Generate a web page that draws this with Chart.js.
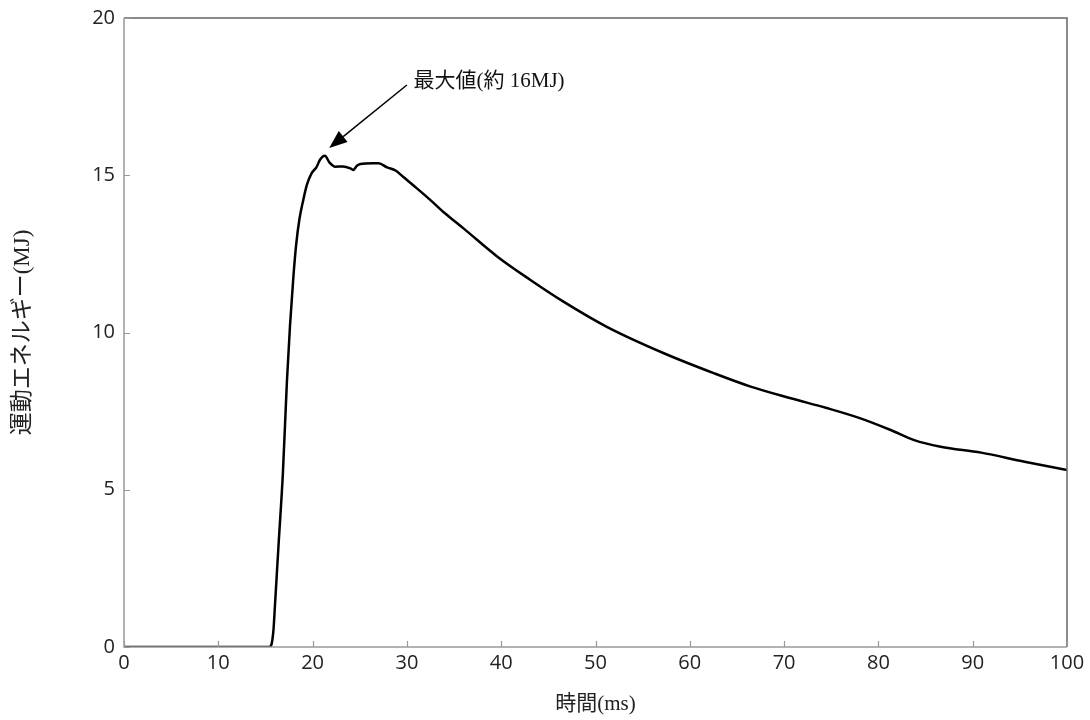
<!DOCTYPE html>
<html>
<head>
<meta charset="utf-8">
<script src="https://cdn.jsdelivr.net/npm/chart.js@4.4.0/dist/chart.umd.min.js"></script>
<style>
html,body{margin:0;padding:0;background:#fff;}
#wrap{width:1090px;height:720px;position:relative;}
</style>
</head>
<body>
<div id="wrap"><canvas id="c" width="1090" height="720"></canvas></div>
<script>
const timeMs = [0, 5, 10, 14, 15.4, 15.6, 15.85, 16.0, 16.4, 16.85, 17.27, 17.6, 17.97, 18.26, 18.6, 19.0, 19.4, 19.9, 20.4, 20.8, 21.3, 21.8, 22.4, 23.2, 24.0, 24.3, 24.7, 25.05, 26.4, 27.0, 27.9, 28.8, 29.6, 31, 32.5, 34, 36, 39.6, 43.1, 46.6, 51.2, 57.25, 62.6, 66.45, 70.7, 74.5, 78.1, 81.3, 83.8, 86.6, 90.9, 95.5, 100];
const energyMJ = [0, 0, 0, 0, 0, 0.05, 0.54, 1.28, 3.3, 5.53, 8.4, 10.2, 11.8, 12.8, 13.6, 14.2, 14.7, 15.07, 15.25, 15.5, 15.62, 15.4, 15.27, 15.28, 15.22, 15.17, 15.3, 15.36, 15.38, 15.38, 15.25, 15.15, 14.95, 14.6, 14.21, 13.8, 13.31, 12.41, 11.67, 10.98, 10.18, 9.34, 8.70, 8.28, 7.91, 7.6, 7.27, 6.90, 6.58, 6.37, 6.18, 5.89, 5.63];
const xTicks = [0, 10, 20, 30, 40, 50, 60, 70, 80, 90, 100];
const yTicks = [0, 5, 10, 15, 20];
const xTitle = '時間(ms)';
const yTitle = '運動エネルギー(MJ)';
const noteText = '最大値(約 16MJ)';
const noteArrowTail = [30.0, 17.87];
const noteArrowTip = [21.76, 15.87];
const noteTextPos = [30.7, 17.97];

const points = timeMs.map((t, i) => ({x: t, y: energyMJ[i]}));

const framePlugin = {
  id: 'frame',
  afterDraw(chart) {
    const ctx = chart.ctx;
    const a = chart.chartArea;
    const xs = chart.scales.x, ys = chart.scales.y;
    ctx.save();
    ctx.strokeStyle = '#666';
    ctx.lineWidth = 1.5;
    ctx.beginPath();
    ctx.moveTo(a.left, a.top);
    ctx.lineTo(a.right, a.top);
    ctx.lineTo(a.right, a.bottom);
    ctx.stroke();
    ctx.strokeStyle = '#999';
    ctx.lineWidth = 1.5;
    ctx.beginPath();
    ctx.moveTo(a.left, a.top);
    ctx.lineTo(a.left, a.bottom);
    ctx.lineTo(a.right, a.bottom);
    ctx.stroke();
    ctx.lineWidth = 1.2;
    ctx.beginPath();
    xTicks.forEach(v => {
      const px = Math.round(xs.getPixelForValue(v)) + 0.5;
      ctx.moveTo(px, a.bottom);
      ctx.lineTo(px, a.bottom - 6);
    });
    yTicks.forEach(v => {
      const py = Math.round(ys.getPixelForValue(v)) + 0.5;
      ctx.moveTo(a.left, py);
      ctx.lineTo(a.left + 6, py);
    });
    ctx.stroke();
    const tx = xs.getPixelForValue(noteArrowTail[0]), ty = ys.getPixelForValue(noteArrowTail[1]);
    const hx = xs.getPixelForValue(noteArrowTip[0]), hy = ys.getPixelForValue(noteArrowTip[1]);
    const ang = Math.atan2(hy - ty, hx - tx);
    const headLen = 18, headW = 7;
    const bx = hx - headLen * Math.cos(ang), by = hy - headLen * Math.sin(ang);
    ctx.strokeStyle = '#000';
    ctx.fillStyle = '#000';
    ctx.lineWidth = 1.5;
    ctx.beginPath();
    ctx.moveTo(tx, ty);
    ctx.lineTo(bx, by);
    ctx.stroke();
    ctx.beginPath();
    ctx.moveTo(hx, hy);
    ctx.lineTo(bx + headW * Math.sin(ang), by - headW * Math.cos(ang));
    ctx.lineTo(bx - headW * Math.sin(ang), by + headW * Math.cos(ang));
    ctx.closePath();
    ctx.fill();
    ctx.font = '21px "Liberation Serif", "Noto Sans CJK JP", serif';
    ctx.textBaseline = 'middle';
    ctx.textAlign = 'left';
    ctx.fillStyle = '#111';
    ctx.fillText(noteText, xs.getPixelForValue(noteTextPos[0]), ys.getPixelForValue(noteTextPos[1]));
    ctx.restore();
  }
};

new Chart(document.getElementById('c'), {
  type: 'line',
  data: {
    datasets: [{
      data: points,
      borderColor: '#000',
      borderWidth: 2.5,
      pointRadius: 0,
      fill: false,
      cubicInterpolationMode: 'monotone'
    }]
  },
  options: {
    responsive: false,
    animation: false,
    events: [],
    layout: {padding: {top: 18, right: 23, left: 0, bottom: 0}},
    plugins: {legend: {display: false}, tooltip: {enabled: false}},
    scales: {
      x: {
        type: 'linear',
        min: 0, max: 100,
        afterBuildTicks(s) { s.ticks = xTicks.map(v => ({value: v})); },
        afterFit(s) { s.height = 73; },
        grid: {display: false},
        border: {display: false},
        ticks: {
          color: '#222',
          font: {family: '"Open Sans", "Liberation Sans", sans-serif', size: 20},
          padding: -4,
          maxRotation: 0
        },
        title: {
          display: true,
          text: xTitle,
          color: '#222',
          font: {family: '"Liberation Serif", "Noto Sans CJK JP", serif', size: 21},
          padding: {top: 0, bottom: 3}
        }
      },
      y: {
        type: 'linear',
        min: 0, max: 20,
        afterBuildTicks(s) { s.ticks = yTicks.map(v => ({value: v})); },
        afterFit(s) { s.width = 124; },
        grid: {display: false},
        border: {display: false},
        ticks: {
          color: '#222',
          font: {family: '"Open Sans", "Liberation Sans", sans-serif', size: 20},
          padding: 1
        },
        title: {
          display: true,
          text: yTitle,
          color: '#222',
          font: {family: '"Liberation Serif", "Noto Sans CJK JP", serif', size: 23},
          padding: {top: 9, bottom: 0}
        }
      }
    }
  },
  plugins: [framePlugin]
});
</script>
</body>
</html>
